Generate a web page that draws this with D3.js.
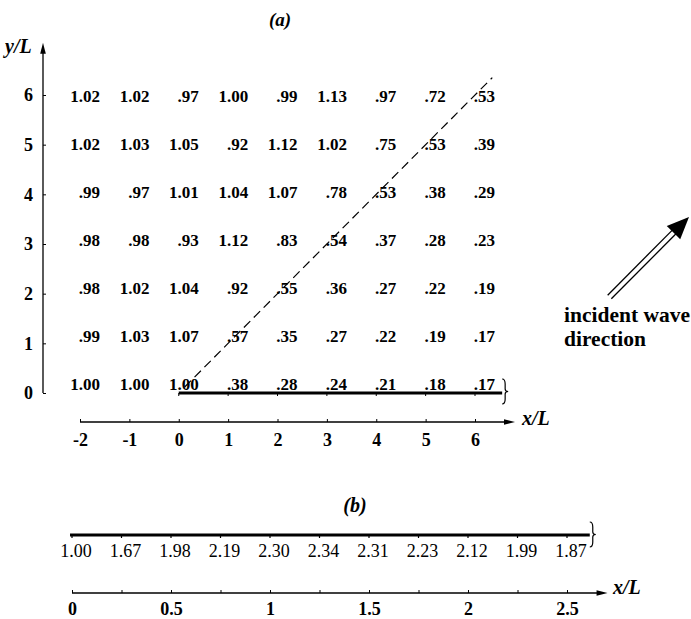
<!DOCTYPE html>
<html>
<head>
<meta charset="utf-8">
<script src="https://cdn.jsdelivr.net/npm/d3@7"></script>
<style>
  body { margin: 0; background: #fff; }
  text { font-family: "Liberation Serif", "Times New Roman", serif; fill: #000; }
</style>
</head>
<body>
<div id="main"></div>
<script>
// panel (a): grid of values, columns x/L, rows y/L (listed from y=6 down to y=0)
const colsA = [-2, -1, 0, 1, 2, 3, 4, 5, 6];
const rowsA = [6, 5, 4, 3, 2, 1, 0];
const valuesA = [
    [1.02, 1.02, 0.97, 1.00, 0.99, 1.13, 0.97, 0.72, 0.53],
    [1.02, 1.03, 1.05, 0.92, 1.12, 1.02, 0.75, 0.53, 0.39],
    [0.99, 0.97, 1.01, 1.04, 1.07, 0.78, 0.53, 0.38, 0.29],
    [0.98, 0.98, 0.93, 1.12, 0.83, 0.54, 0.37, 0.28, 0.23],
    [0.98, 1.02, 1.04, 0.92, 0.55, 0.36, 0.27, 0.22, 0.19],
    [0.99, 1.03, 1.07, 0.57, 0.35, 0.27, 0.22, 0.19, 0.17],
    [1.00, 1.00, 1.00, 0.38, 0.28, 0.24, 0.21, 0.18, 0.17]
];
const xTicksA = [-2, -1, 0, 1, 2, 3, 4, 5, 6];
const yTicksA = [0, 1, 2, 3, 4, 5, 6];
const barrierA = [0, 6.55];          // thick line along y = 0
const shadowLineA = [0.12, 6.35];    // dashed line y = x

// panel (b): values along the barrier
const xB = [0, 0.25, 0.5, 0.75, 1, 1.25, 1.5, 1.75, 2, 2.25, 2.5];
const valuesB = [1.00, 1.67, 1.98, 2.19, 2.30, 2.34, 2.31, 2.23, 2.12, 1.99, 1.87];
const xTickLabelsB = [0, 0.5, 1, 1.5, 2, 2.5];
const barrierB = [-0.01, 2.615];

const W = 691, H = 619;

const svg = d3.select("#main").append("svg")
    .attr("width", W)
    .attr("height", H);

const fmt = v => v >= 1 ? v.toFixed(2) : v.toFixed(2).slice(1);

// small arrowhead pointing along (dx,dy)
function arrowHead(x, y, dx, dy, len, half) {
    let n = Math.hypot(dx, dy), ux = dx / n, uy = dy / n;
    let bx = x - ux * len, by = y - uy * len;
    return `M${x},${y}L${bx - uy * half},${by + ux * half}L${bx + uy * half},${by - ux * half}Z`;
}

// vertical curly brace, opening to the left
function brace(x, y0, y1, w) {
    let m = (y0 + y1) / 2, h = y1 - y0, c = x + w * 0.5;
    return `M${x},${y0}Q${c},${y0} ${c},${y0 + h * 0.2}L${c},${m - h * 0.1}Q${c},${m} ${x + w},${m}` +
           `Q${c},${m} ${c},${m + h * 0.1}L${c},${y1 - h * 0.2}Q${c},${y1} ${x},${y1}`;
}

function styleTicks(g, size) {
    g.select(".domain").remove();
    g.selectAll("text")
        .style("font-size", size + "px")
        .style("font-weight", "bold")
        .style("font-family", "Liberation Serif");
    g.selectAll("line").attr("stroke-width", 1);
}

// ---------- panel (a) ----------
const xA = d3.scaleLinear().domain([-2, 6]).range([80, 475]);
const yA = d3.scaleLinear().domain([0, 6]).range([393, 95]);
const yLabA = d3.scaleLinear().domain([0, 6]).range([390, 102]);   // text baselines sit a little above the grid
const axisYA = 422;

svg.append("text")
    .attr("x", 280).attr("y", 26)
    .attr("text-anchor", "middle")
    .style("font-size", "19px").style("font-style", "italic").style("font-weight", "bold")
    .text("(a)");

const gA = svg.append("g");

// x axis
const xAxisA = gA.append("g")
    .attr("transform", `translate(0,${axisYA})`)
    .call(d3.axisBottom(xA).tickValues(xTicksA).tickSize(-3).tickPadding(11).tickFormat(d => String(d)));
styleTicks(xAxisA, 18);

gA.append("line")
    .attr("x1", xA(-2)).attr("x2", xA(6.7))
    .attr("y1", axisYA).attr("y2", axisYA)
    .attr("stroke", "#000").attr("stroke-width", 1.3);
gA.append("path")
    .attr("d", arrowHead(xA(6.81), axisYA, 1, 0, 11, 2.8));

svg.append("text")
    .attr("x", 522).attr("y", 425)
    .style("font-size", "20px").style("font-style", "italic").style("font-weight", "bold")
    .text("x/L");

// y axis
const yAxisA = gA.append("g")
    .attr("transform", `translate(43,0)`)
    .call(d3.axisLeft(yA).tickValues(yTicksA).tickSize(-3).tickPadding(10).tickFormat(d => String(d)));
styleTicks(yAxisA, 18);

gA.append("line")
    .attr("x1", 43).attr("x2", 43)
    .attr("y1", yA(0)).attr("y2", yA(6.95))
    .attr("stroke", "#000").attr("stroke-width", 1.3);
gA.append("path")
    .attr("d", arrowHead(43, yA(7.05), 0, -1, 11, 2.8));

svg.append("text")
    .attr("x", 5).attr("y", 53)
    .style("font-size", "20px").style("font-style", "italic").style("font-weight", "bold")
    .text("y/L");

// dashed line y = x
gA.append("line")
    .attr("x1", xA(shadowLineA[0])).attr("y1", yA(shadowLineA[0]))
    .attr("x2", xA(shadowLineA[1])).attr("y2", yA(shadowLineA[1]))
    .attr("stroke", "#000").attr("stroke-width", 1.2)
    .attr("stroke-dasharray", "9,5");

// thick barrier
gA.append("line")
    .attr("x1", xA(barrierA[0])).attr("x2", xA(barrierA[1]))
    .attr("y1", yA(0)).attr("y2", yA(0))
    .attr("stroke", "#000").attr("stroke-width", 3);
gA.selectAll("line.btick")
    .data(xTicksA.filter(d => d >= 0))
    .enter().append("line")
    .attr("class", "btick")
    .attr("x1", d => xA(d)).attr("x2", d => xA(d))
    .attr("y1", yA(0)).attr("y2", yA(0) + 3)
    .attr("stroke", "#000").attr("stroke-width", 1);
gA.append("path")
    .attr("d", brace(xA(barrierA[1]), 379, 404, 6))
    .attr("fill", "none").attr("stroke", "#000").attr("stroke-width", 1.2);

// grid values
const cells = [];
rowsA.forEach((r, i) => colsA.forEach((c, j) => cells.push({ x: c, y: r, v: valuesA[i][j] })));

gA.selectAll("text.cell")
    .data(cells)
    .enter().append("text")
    .attr("class", "cell")
    .attr("x", d => xA(d.x) + 20)
    .attr("y", d => yLabA(d.y))
    .attr("text-anchor", "end")
    .style("font-size", "17px").style("font-weight", "bold")
    .text(d => fmt(d.v));

// incident wave direction arrow
const tip = [689, 217], tail = [609.5, 297];
let dx = tip[0] - tail[0], dy = tip[1] - tail[1], n = Math.hypot(dx, dy);
let ux = dx / n, uy = dy / n;
let headLen = 22, headHalf = 9.5, off = 2.6;
let base = [tip[0] - ux * headLen, tip[1] - uy * headLen];
[-off, off].forEach(o => {
    svg.append("line")
        .attr("x1", tail[0] - uy * o).attr("y1", tail[1] + ux * o)
        .attr("x2", base[0] - uy * o + ux * 2).attr("y2", base[1] + ux * o + uy * 2)
        .attr("stroke", "#000").attr("stroke-width", 1.3);
});
svg.append("path")
    .attr("d", arrowHead(tip[0], tip[1], dx, dy, headLen, headHalf));

svg.append("text")
    .attr("x", 564).attr("y", 322)
    .style("font-size", "21.5px").style("font-weight", "bold")
    .text("incident wave");
svg.append("text")
    .attr("x", 564).attr("y", 346)
    .style("font-size", "21.5px").style("font-weight", "bold")
    .text("direction");

// ---------- panel (b) ----------
const xScaleB = d3.scaleLinear().domain([0, 2.5]).range([72, 567]);
const lineYB = 535, axisYB = 593;

svg.append("text")
    .attr("x", 355).attr("y", 512)
    .attr("text-anchor", "middle")
    .style("font-size", "20px").style("font-style", "italic").style("font-weight", "bold")
    .text("(b)");

const gB = svg.append("g");

gB.append("line")
    .attr("x1", xScaleB(barrierB[0])).attr("x2", xScaleB(barrierB[1]))
    .attr("y1", lineYB).attr("y2", lineYB)
    .attr("stroke", "#000").attr("stroke-width", 3);
gB.selectAll("line.btick")
    .data(xB)
    .enter().append("line")
    .attr("class", "btick")
    .attr("x1", d => xScaleB(d)).attr("x2", d => xScaleB(d))
    .attr("y1", lineYB).attr("y2", lineYB + 3)
    .attr("stroke", "#000").attr("stroke-width", 1.2);
gB.append("path")
    .attr("d", brace(xScaleB(barrierB[1]), 522, 547, 6))
    .attr("fill", "none").attr("stroke", "#000").attr("stroke-width", 1.2);

gB.selectAll("text.val")
    .data(xB.map((x, i) => ({ x: x, v: valuesB[i] })))
    .enter().append("text")
    .attr("class", "val")
    .attr("x", d => xScaleB(d.x) + 4)
    .attr("y", 557)
    .attr("text-anchor", "middle")
    .style("font-size", "18px")
    .text(d => d.v.toFixed(2));

const xAxisB = gB.append("g")
    .attr("transform", `translate(0,${axisYB})`)
    .call(d3.axisBottom(xScaleB).tickValues(xB).tickSize(-3).tickPadding(9)
        .tickFormat(d => xTickLabelsB.includes(d) ? String(d) : ""));
styleTicks(xAxisB, 18);

gB.append("line")
    .attr("x1", xScaleB(0)).attr("x2", xScaleB(2.66))
    .attr("y1", axisYB).attr("y2", axisYB)
    .attr("stroke", "#000").attr("stroke-width", 1.3);
gB.append("path")
    .attr("d", arrowHead(xScaleB(2.705), axisYB, 1, 0, 11, 2.8));

svg.append("text")
    .attr("x", 613).attr("y", 594)
    .style("font-size", "20px").style("font-style", "italic").style("font-weight", "bold")
    .text("x/L");
</script>
</body>
</html>
